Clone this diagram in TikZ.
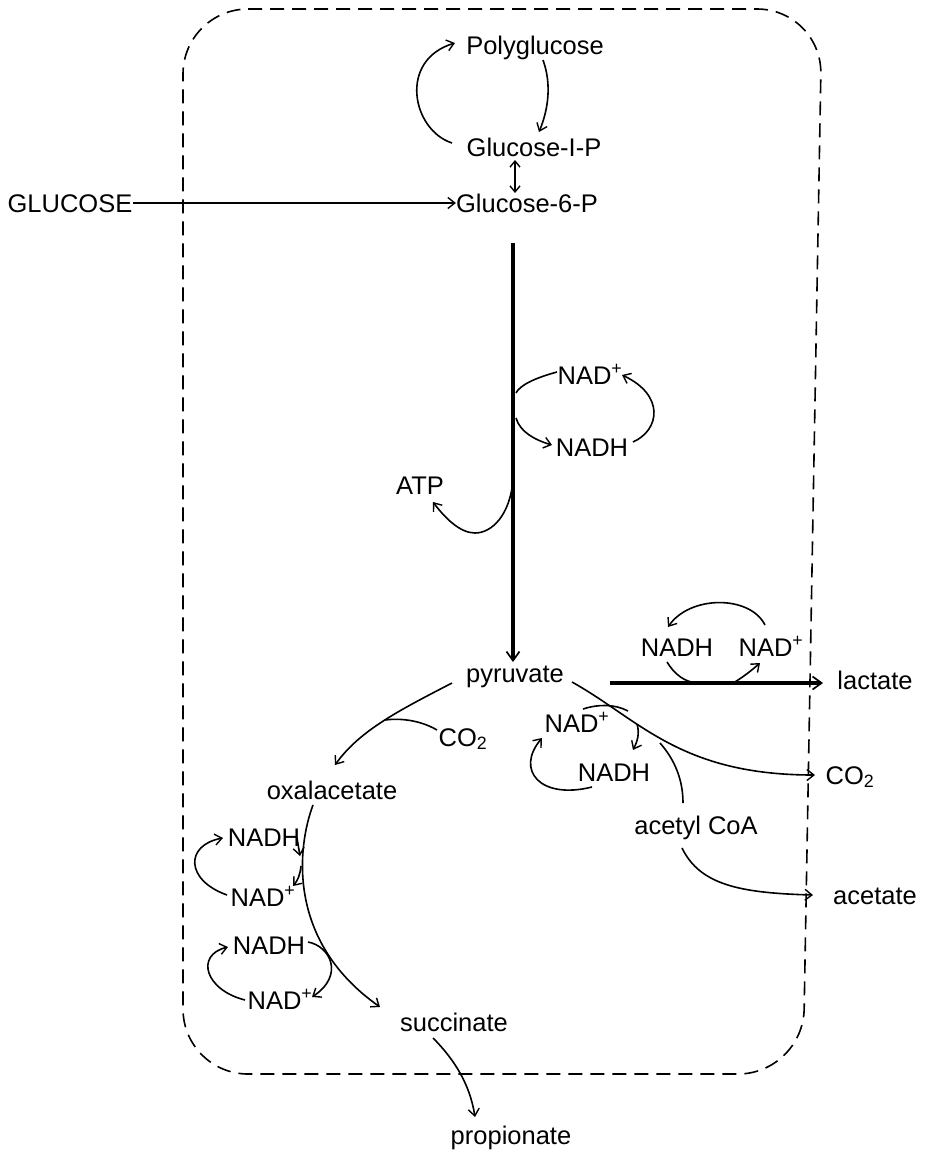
\documentclass[tikz,border=0pt]{standalone}
\usepackage{fontspec}
\setmainfont{Liberation Sans}
\usetikzlibrary{arrows.meta}
\begin{document}
\begin{tikzpicture}[x=1pt,y=-1pt,
  lab/.style={inner sep=0pt, font=\fontsize{25.5}{27}\selectfont, text height=18pt, text depth=0pt},
  conn/.style={line width=1.6pt, -{Straight Barb[length=7pt,width=11pt,line width=1.4pt]}},
  link/.style={line width=1.6pt},
  heavy/.style={line width=3.2pt, -{Straight Barb[length=9pt,width=13pt,line width=1.7pt]}},
  cell/.style={line width=1.6pt, dash pattern=on 14pt off 8pt, rounded corners=65pt}
]
\useasboundingbox (0,0) rectangle (925,1152);

% cell boundary
\draw[cell] (183,9) -- (822,9) -- (803,1074) -- (183,1074) -- cycle;

% labels
\node[lab] (poly) at (535,45) {Polyglucose};
\node[lab] (g1p) at (534,147) {Glucose-I-P};
\node[lab] (g6p) at (527,203) {Glucose-6-P};
\node[lab] (glc) at (70,203) {GLUCOSE};
\node[lab] (nadA) at (590,375) {NAD\textsuperscript{+}};
\node[lab] (nadhA) at (592,447) {NADH};
\node[lab] (atp) at (420,485) {ATP};
\node[lab] (nadhL) at (677,647) {NADH};
\node[lab] (nadL) at (771,647) {NAD\textsuperscript{+}};
\node[lab] (lact) at (875,680) {lactate};
\node[lab] (pyr) at (515,673) {pyruvate};
\node[lab] (co2a) at (463,737) {CO\textsubscript{2}};
\node[lab] (nadM) at (577,723) {NAD\textsuperscript{+}};
\node[lab] (nadhM) at (614,772) {NADH};
\node[lab] (co2b) at (850,775) {CO\textsubscript{2}};
\node[lab] (oxa) at (332,790) {oxalacetate};
\node[lab] (acoa) at (696,825) {acetyl CoA};
\node[lab] (acet) at (875,895) {acetate};
\node[lab] (nadhU) at (264,837) {NADH};
\node[lab] (nadU) at (263,897) {NAD\textsuperscript{+}};
\node[lab] (nadhD) at (269,945) {NADH};
\node[lab] (nadD) at (280,1000) {NAD\textsuperscript{+}};
\node[lab] (succ) at (454,1022) {succinate};
\node[lab] (prop) at (511,1135) {propionate};

% polyglucose cycle
\draw[conn] (452,143) .. controls (412,130) and (398,60) .. (455,43);
\draw[conn] (543,60) .. controls (552,85) and (548,110) .. (539,132);
\draw[line width=1.6pt, {Straight Barb[length=6pt,width=10pt,line width=1.4pt]}-{Straight Barb[length=6pt,width=10pt,line width=1.4pt]}] (515,160) -- (515,193);

% glucose uptake
\draw[conn] (glc.east) -- (g6p.west);

% glycolysis
\coordinate (gtop) at (513,243);
\coordinate (gend) at (513,662);
\draw[heavy] (gtop) -- (gend);
\draw[link] (557,372) .. controls (535,378) and (520,385) .. (516,393);
\draw[conn] (516,418) .. controls (520,432) and (535,440) .. (552,445);
\draw[conn] (633,442) .. controls (660,430) and (665,395) .. (622,375);
\draw[conn] (513,480) .. controls (510,515) and (492,533) .. (475,533) .. controls (460,533) and (445,518) .. (433,502);

% lactate
\coordinate (lstart) at (610,683);
\coordinate (lend) at (823,683);
\draw[heavy] (lstart) -- (lend);
\draw[conn] (765,625) .. controls (750,595) and (690,595) .. (668,627);
\draw[link] (667,662) .. controls (675,675) and (685,682) .. (697,683);
\draw[conn] (733,683) .. controls (742,678) and (752,670) .. (760,663);

% pyruvate -> oxalacetate
\draw[conn] (452,683) .. controls (400,710) and (360,730) .. (335,765);
\draw[link] (437,730) .. controls (420,720) and (400,718) .. (385,720);

% pyruvate -> CO2 / acetyl CoA
\draw[conn] (572,682) .. controls (640,720) and (680,775) .. (815,775);
\draw[link] (583,709) .. controls (598,704) and (615,704) .. (628,711);
\draw[conn] (637,724) .. controls (640,734) and (637,742) .. (633,750);
\draw[conn] (592,787) .. controls (540,800) and (515,770) .. (542,738);
\draw[link] (660,743) .. controls (675,760) and (683,780) .. (683,803);
\draw[conn] (682,848) .. controls (700,885) and (740,893) .. (813,895);

% oxalacetate -> succinate
\draw[conn] (313,805) .. controls (298,845) and (285,940) .. (380,1007);
\draw[conn] (297,838) -- (300,856);
\draw[conn] (301,866) .. controls (300,875) and (298,880) .. (293,886);
\draw[conn] (227,895) .. controls (185,880) and (185,845) .. (223,838);
\draw[conn] (308,942) .. controls (330,946) and (345,975) .. (312,997);
\draw[conn] (245,1000) .. controls (205,990) and (195,955) .. (228,947);

% succinate -> propionate
\draw[conn] (433,1038) .. controls (455,1060) and (470,1085) .. (475,1117);
\end{tikzpicture}
\end{document}
